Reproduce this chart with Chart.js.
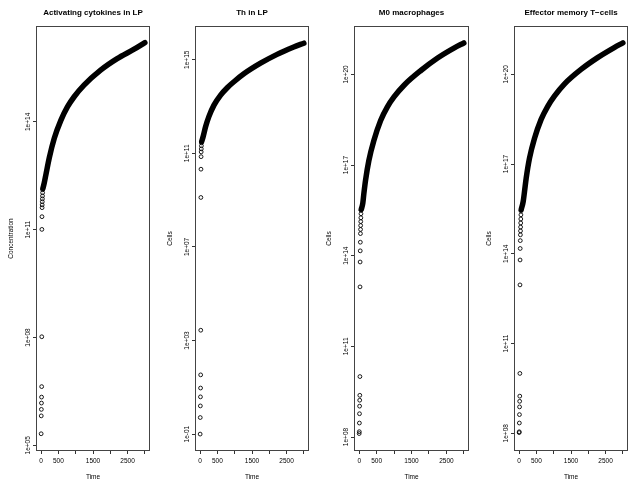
<!DOCTYPE html>
<html>
<head>
<meta charset="utf-8">
<script src="https://cdn.jsdelivr.net/npm/chart.js@4/dist/chart.umd.min.js"></script>
<style>
html, body { margin: 0; padding: 0; background: #fff; }
#wrap { position: relative; width: 637px; height: 485px; }
canvas { position: absolute; top: 0; }
</style>
</head>
<body>
<div id="wrap">
  <canvas id="c0" width="159" height="485" style="left:0px"></canvas>
  <canvas id="c1" width="159" height="485" style="left:159px"></canvas>
  <canvas id="c2" width="160" height="485" style="left:318px"></canvas>
  <canvas id="c3" width="159" height="485" style="left:478px"></canvas>
</div>
<script>
// titres et axes
const panelTitles = ['Activating cytokines in LP', 'Th in LP', 'M0 macrophages', 'Effector memory T\u2212cells'];
const yTitles = ['Concentration', 'Cells', 'Cells', 'Cells'];
const xTicks = [0, 500, 1000, 1500, 2000, 2500, 3000];
const xTickLabels = ['0', '500', '', '1500', '', '2500', ''];

// y ticks and limits (log10 of the limits)
const yTicks1 = [1e5, 1e8, 1e11, 1e14];
const yTicks2 = [1e-1, 1e3, 1e7, 1e11, 1e15];
const yTicks3 = [1e8, 1e11, 1e14, 1e17, 1e20];
const yTicks4 = [1e8, 1e11, 1e14, 1e17, 1e20];
const yLimits = [[4.87, 16.64], [-1.68, 16.40], [7.57, 21.57], [7.44, 21.58]];

// early time points (scattered circles near t = 0)
const earlyT1 = [0, 3, 6, 9, 12, 15, 18, 21, 24, 27, 30, 33, 36, 39, 42, 45];
const earlyV1 = [2.1e5, 6.6e5, 1.0e6, 1.5e6, 2.2e6, 4.3e6, 1.05e8, 1.02e11, 2.3e11, 4.1e11, 4.9e11, 6.0e11, 7.2e11, 8.7e11, 1.07e12, 1.29e12];

const earlyT2 = [0, 3, 6, 9, 12, 15, 18, 21, 24, 27, 30, 33, 36, 39];
const earlyV2 = [0.1, 0.51, 1.6, 3.9, 9.3, 34, 2750, 1.3e9, 2.1e10, 7.2e10, 1.15e11, 1.55e11, 2.1e11, 2.8e11];

const earlyT3 = [0, 3, 6, 9, 12, 15, 18, 21, 24, 27, 30, 33, 36, 39, 42, 45, 48, 51, 54];
const earlyV3 = [1.3e8, 1.5e8, 2.9e8, 5.9e8, 1.05e9, 1.65e9, 2.4e9, 1.0e10, 9.3e12, 6.2e13, 1.45e14, 2.8e14, 5.4e14, 7.4e14, 1.0e15, 1.35e15, 1.8e15, 2.45e15, 3.2e15];

const earlyT4 = [0, 3, 6, 9, 12, 15, 18, 21, 24, 27, 30, 33, 36, 39, 42, 45, 48, 51, 54];
const earlyV4 = [1.05e8, 1.12e8, 2.2e8, 4.2e8, 7.6e8, 1.17e9, 1.74e9, 1.0e10, 9.1e12, 6.2e13, 1.5e14, 2.75e14, 4.3e14, 5.8e14, 7.8e14, 1.07e15, 1.45e15, 2.0e15, 2.7e15];

// main curve (dense circles forming the thick line)
const curveT1 = [50, 90, 140, 235, 380, 570, 760, 955, 1240, 1720, 2200, 2690, 3000];
const curveV1 = [1.4e12, 2.0e12, 3.5e12, 1.0e13, 3.5e13, 1.1e14, 2.6e14, 5.0e14, 1.05e15, 2.75e15, 5.75e15, 1.05e16, 1.6e16];

const curveT2 = [45, 91, 159, 255, 400, 592, 784, 977, 1265, 1747, 2226, 2708, 3000];
const curveV2 = [3.2e11, 5.5e11, 1.4e12, 3.8e12, 1.15e13, 3.1e13, 6.4e13, 1.15e14, 2.5e14, 7.1e14, 1.7e15, 3.5e15, 5.1e15];

const curveT3 = [60, 104, 133, 182, 277, 421, 615, 805, 998, 1287, 1769, 2248, 2729, 3000];
const curveV3 = [3.4e15, 5.5e15, 1.1e16, 3.1e16, 1.4e17, 6.5e17, 3.0e18, 8.3e18, 1.8e19, 4.4e19, 1.35e20, 3.5e20, 7.6e20, 1.1e21];

const curveT4 = [60, 117, 154, 203, 299, 443, 636, 827, 1020, 1308, 1790, 2270, 2751, 3000];
const curveV4 = [3.0e15, 5.6e15, 1.17e16, 3.3e16, 1.55e17, 7.1e17, 3.1e18, 8.5e18, 1.86e19, 4.7e19, 1.45e20, 3.6e20, 7.8e20, 1.12e21];

Chart.defaults.font.family = '"Liberation Sans", Arial, Helvetica, sans-serif';
Chart.defaults.color = '#000';

function toPoints(ts, vs) {
    return ts.map((t, i) => ({ x: t, y: vs[i] }));
}

// format R style : 1e+05, 1e-01
function rExp(v) {
    const e = Math.round(Math.log10(v));
    return '1e' + (e < 0 ? '-' : '+') + String(Math.abs(e)).padStart(2, '0');
}

const boxPlugin = {
    id: 'rbox',
    afterDraw(chart, args, opts) {
        const ctx = chart.ctx;
        const a = chart.chartArea;
        ctx.save();
        ctx.strokeStyle = '#444';
        ctx.lineWidth = 1;
        ctx.strokeRect(Math.round(a.left) - 0.5, Math.round(a.top) - 0.5, Math.round(a.right - a.left) + 1, Math.round(a.bottom - a.top) + 1);
        // titre du panneau
        ctx.font = 'bold 8px "Liberation Sans", Arial, sans-serif';
        ctx.fillStyle = '#000';
        ctx.textAlign = 'center';
        ctx.textBaseline = 'middle';
        ctx.fillText(opts.text, (a.left + a.right) / 2, 12.5);
        ctx.restore();
    }
};

function makePanel(id, title, yTitle, yTicks, lim, earlyT, earlyV, curveT, curveV) {
    const ctx = document.getElementById(id).getContext('2d');
    return new Chart(ctx, {
        type: 'scatter',
        data: {
            datasets: [{
                data: toPoints(curveT, curveV),
                showLine: true,
                borderColor: '#000',
                borderWidth: 5.5,
                borderCapStyle: 'round',
                borderJoinStyle: 'round',
                cubicInterpolationMode: 'monotone',
                pointRadius: 0
            },
            {
                data: toPoints(earlyT, earlyV),
                showLine: false,
                pointRadius: 1.9,
                pointBorderWidth: 0.9,
                pointBorderColor: '#000',
                pointBackgroundColor: 'rgba(0,0,0,0)'
            }]
        },
        options: {
            responsive: false,
            animation: false,
            devicePixelRatio: 1,
            layout: { padding: { left: 0, right: 10, top: 27, bottom: 0 } },
            plugins: {
                legend: { display: false },
                tooltip: { enabled: false },
                rbox: { text: title }
            },
            scales: {
                x: {
                    type: 'linear',
                    min: -120,
                    max: 3120,
                    afterBuildTicks: s => { s.ticks = xTicks.map(v => ({ value: v })); },
                    afterFit: s => { s.height = 35; },
                    grid: { drawOnChartArea: false, drawTicks: true, tickLength: 4, color: '#333' },
                    border: { display: false },
                    ticks: {
                        autoSkip: false,
                        maxRotation: 0,
                        padding: 3,
                        font: { size: 6.5 },
                        callback: (v, i) => xTickLabels[i]
                    },
                    title: { display: true, text: 'Time', font: { size: 6.5 }, padding: { top: 0, bottom: 4 } }
                },
                y: {
                    type: 'logarithmic',
                    min: Math.pow(10, lim[0]),
                    max: Math.pow(10, lim[1]),
                    afterBuildTicks: s => { s.ticks = yTicks.map(v => ({ value: v })); },
                    afterFit: s => { s.width = 37; },
                    grid: { drawOnChartArea: false, drawTicks: true, tickLength: 4, color: '#333' },
                    border: { display: false },
                    ticks: {
                        minRotation: 90,
                        maxRotation: 90,
                        crossAlign: 'center',
                        padding: -4,
                        font: { size: 6.5 },
                        callback: v => rExp(v)
                    },
                    title: { display: true, text: yTitle, font: { size: 6.5 }, padding: { top: 7, bottom: 0 } }
                }
            }
        },
        plugins: [boxPlugin]
    });
}

makePanel('c0', panelTitles[0], yTitles[0], yTicks1, yLimits[0], earlyT1, earlyV1, curveT1, curveV1);
makePanel('c1', panelTitles[1], yTitles[1], yTicks2, yLimits[1], earlyT2, earlyV2, curveT2, curveV2);
makePanel('c2', panelTitles[2], yTitles[2], yTicks3, yLimits[2], earlyT3, earlyV3, curveT3, curveV3);
makePanel('c3', panelTitles[3], yTitles[3], yTicks4, yLimits[3], earlyT4, earlyV4, curveT4, curveV4);
</script>
</body>
</html>
